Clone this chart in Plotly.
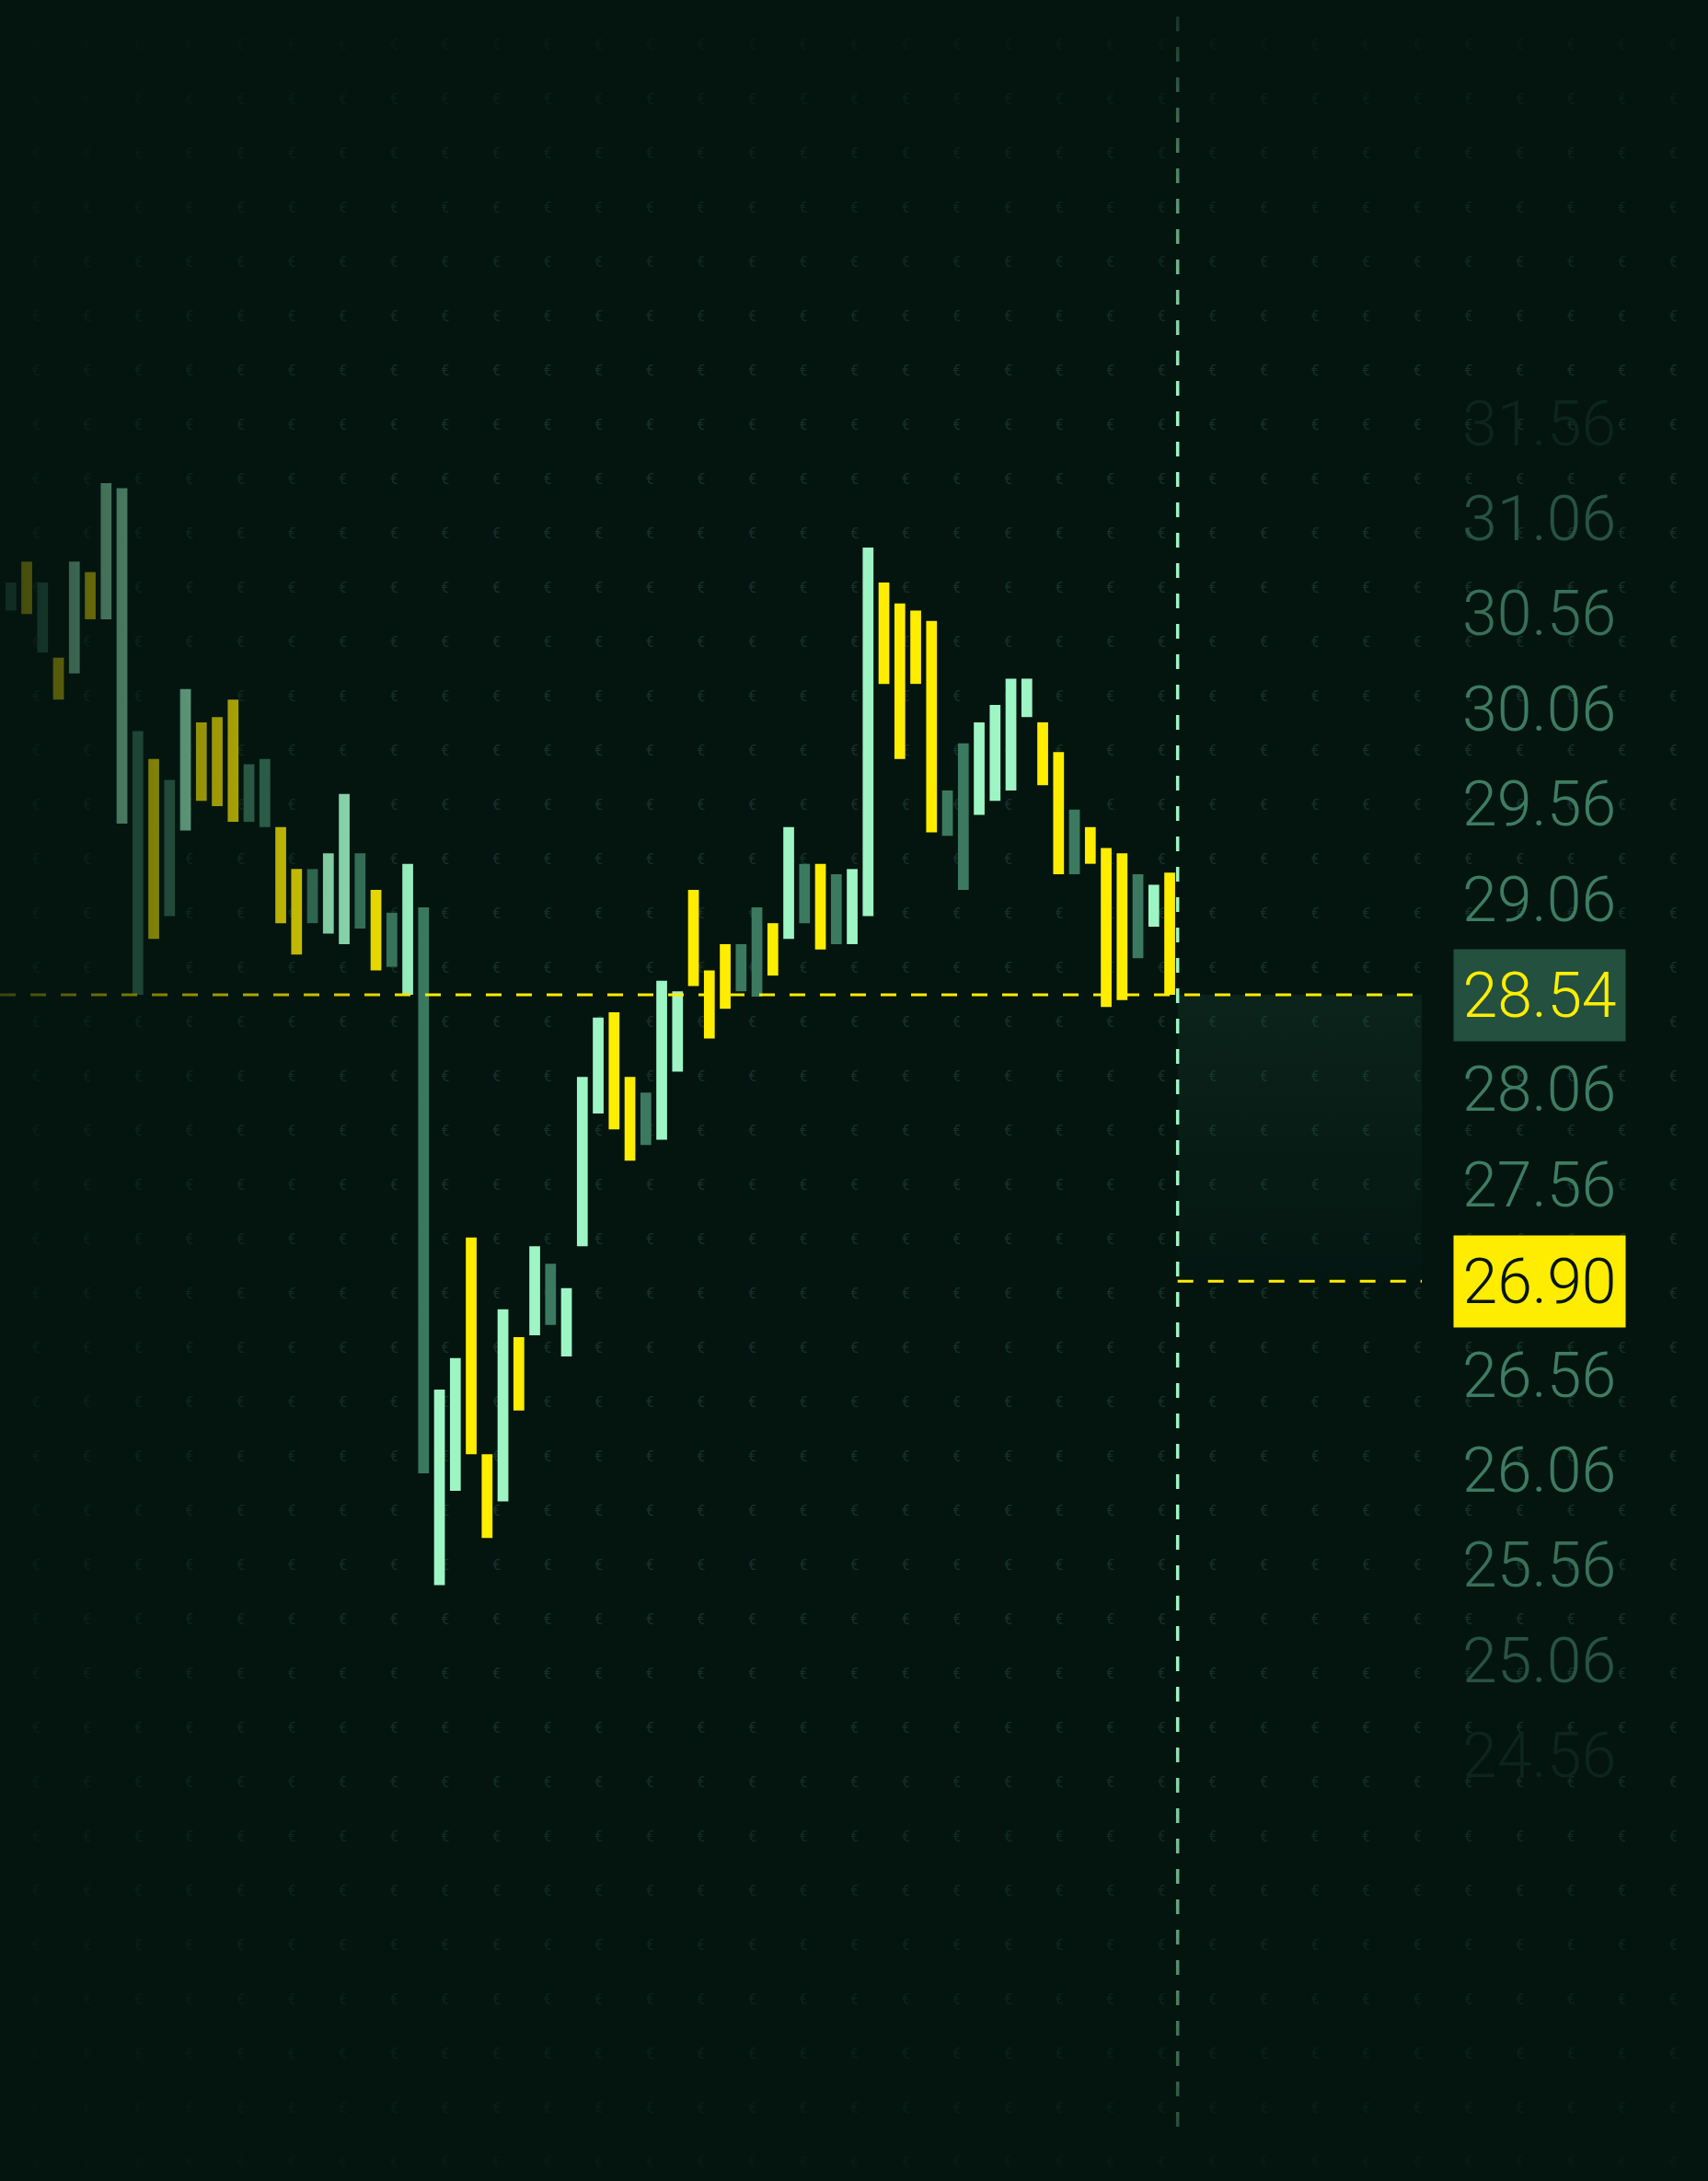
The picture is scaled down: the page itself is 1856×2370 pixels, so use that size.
import numpy as np
import plotly.graph_objects as go

# ---------------- data ----------------
bar_high = [30.90, 31.02, 30.90, 30.47, 31.02, 30.96, 31.47, 31.44, 30.05, 29.89,
            29.77, 30.29, 30.10, 30.13, 30.23, 29.86, 29.89, 29.50, 29.26, 29.26,
            29.35, 29.69, 29.35, 29.14, 29.01, 29.29, 29.04, 26.28, 26.46, 27.15,
            25.91, 26.74, 26.58, 27.10, 27.00, 26.86, 28.07, 28.41, 28.44, 28.07,
            27.98, 28.62, 28.56, 29.14, 28.68, 28.83, 28.83, 29.04, 28.95, 29.50,
            29.29, 29.29, 29.23, 29.26, 31.10, 30.90, 30.78, 30.74, 30.68, 29.71,
            29.98, 30.10, 30.20, 30.35, 30.35, 30.10, 29.93, 29.60, 29.50, 29.38,
            29.35, 29.23, 29.17, 29.24]
bar_low = [30.74, 30.72, 30.50, 30.23, 30.38, 30.69, 30.69, 29.52, 28.54, 28.86,
           28.99, 29.48, 29.65, 29.62, 29.53, 29.53, 29.50, 28.95, 28.77, 28.95,
           28.89, 28.83, 28.92, 28.68, 28.70, 28.54, 25.80, 25.16, 25.70, 25.91,
           25.43, 25.64, 26.16, 26.59, 26.65, 26.47, 27.10, 27.86, 27.77, 27.59,
           27.68, 27.71, 28.10, 28.59, 28.29, 28.46, 28.56, 28.53, 28.65, 28.86,
           28.95, 28.80, 28.83, 28.83, 28.99, 30.32, 29.89, 30.32, 29.47, 29.45,
           29.14, 29.57, 29.65, 29.71, 30.13, 29.74, 29.23, 29.23, 29.29, 28.47,
           28.51, 28.75, 28.93, 28.54]
bar_dir = ["n", "d", "n", "d", "u", "d", "u", "u", "n", "d",
           "n", "u", "d", "d", "d", "n", "n", "d", "d", "n",
           "u", "u", "n", "d", "n", "u", "n", "u", "u", "d",
           "d", "u", "d", "u", "n", "u", "u", "u", "d", "d",
           "n", "u", "u", "d", "d", "d", "n", "n", "d", "u",
           "n", "d", "n", "u", "u", "d", "d", "d", "d", "n",
           "n", "u", "u", "u", "u", "d", "d", "n", "d", "d",
           "d", "n", "u", "d"]
last_price = 28.54
target_price = 26.90
ladder_labels = ["31.56", "31.06", "30.56", "30.06", "29.56", "29.06", "28.54",
                 "28.06", "27.56", "26.90", "26.56", "26.06", "25.56", "25.06", "24.56"]

# ---------------- style / layout constants ----------------
W, H = 1856, 2370
BG = (4, 21, 16)
BG_HEX = "#041510"
YELLOW = "#FFED00"
MINT = "#9DF5C4"
DARK = "#3B7A60"
LABEL_RGB = (62, 124, 99)
BADGE_BG = "#23503F"
FONT = "Roboto"
LABEL_SIZE = 68

X0_PX, BAR_PX = 11.8, 17.25                       # first bar centre, px per bar slot
PRICE_REF_PX, PRICE_UNIT_PX = 1081, 189.8          # last price row, px per 1.00
SLOT_PX = 103.4                                    # ladder row spacing
LABEL_X_PX, BADGE_X_PX, BADGE_W, BADGE_H = 1587, 1579, 186, 99
LINE_END_PX = 1545

x_min = -X0_PX / BAR_PX
x_max = x_min + W / BAR_PX
p_max = last_price + PRICE_REF_PX / PRICE_UNIT_PX
p_min = p_max - H / PRICE_UNIT_PX
i_last = ladder_labels.index(f"{last_price:.2f}")
s_top = i_last - PRICE_REF_PX / SLOT_PX
s_bot = s_top + H / SLOT_PX


def xd(px):
    return x_min + px / BAR_PX


def yd(py):
    return p_max - py / PRICE_UNIT_PX


def rgba(c, a):
    return f"rgba({c[0]},{c[1]},{c[2]},{a:.3f})"


n = len(bar_high)
idx = np.arange(n)
hi = np.array(bar_high)
lo = np.array(bar_low)
cmap = {"u": MINT, "d": YELLOW, "n": DARK}
colors = [cmap[d] for d in bar_dir]

now_x = n - 1 + 0.5
line_end = xd(LINE_END_PX)

fig = go.Figure()

# euro background pattern (base subplot, underneath everything)
gx = np.arange(39, W, 55.6)
gy = np.arange(50, H, 59.0)
GX, GY = np.meshgrid(gx, gy)
fig.add_trace(go.Scatter(
    x=xd(GX.ravel()), y=yd(GY.ravel()), mode="text", text=["€"] * GX.size,
    textfont=dict(family=FONT, size=16, color="rgb(22,49,40)"),
    hoverinfo="skip", showlegend=False, xaxis="x", yaxis="y"))

OV = dict(xaxis="x2", yaxis="y2", hoverinfo="skip", showlegend=False)

# target zone shading
fig.add_trace(go.Scatter(
    x=[now_x, line_end, line_end, now_x, now_x],
    y=[target_price, target_price, last_price, last_price, target_price],
    mode="none", fill="toself",
    fillgradient=dict(type="vertical",
                      colorscale=[[0, rgba((30, 75, 58), 0.02)],
                                  [1, rgba((30, 75, 58), 0.26)]]),
    **OV))

# bars
fig.add_trace(go.Bar(
    x=idx, base=lo, y=hi - lo, width=0.68,
    marker=dict(color=colors, line=dict(width=0)), **OV))

# last price line
fig.add_trace(go.Scatter(
    x=[x_min, line_end], y=[last_price, last_price], mode="lines",
    line=dict(color=YELLOW, width=3, dash="17px,16px"), **OV))
# target line
fig.add_trace(go.Scatter(
    x=[now_x, line_end], y=[target_price, target_price], mode="lines",
    line=dict(color=YELLOW, width=3, dash="17px,16px"), **OV))
# now line
fig.add_trace(go.Scatter(
    x=[now_x, now_x], y=[yd(18), yd(2315)], mode="lines",
    line=dict(color=MINT, width=3.5, dash="16px,17px"), **OV))


# fade overlays
def overlay(x0, x1, y0, y1, kind, a0, a1):
    fig.add_trace(go.Scatter(
        x=[x0, x1, x1, x0, x0], y=[y0, y0, y1, y1, y0],
        mode="none", fill="toself",
        fillgradient=dict(type=kind, colorscale=[[0, rgba(BG, a0)], [1, rgba(BG, a1)]]),
        **OV))


overlay(x_min, xd(470), p_min, p_max, "horizontal", 0.78, 0.0)
overlay(x_min, x_max, yd(430), p_max, "vertical", 0.0, 0.9)
overlay(x_min, x_max, p_min, yd(1850), "vertical", 0.85, 0.0)

# anchor trace for the ladder axis
fig.add_trace(go.Scatter(x=[None], y=[None], xaxis="x2", yaxis="y3",
                         hoverinfo="skip", showlegend=False))

# price ladder labels
badges = {f"{last_price:.2f}", f"{target_price:.2f}"}
center = ladder_labels.index(f"{last_price:.2f}") + 1
annotations = []
for i, lab in enumerate(ladder_labels):
    if lab in badges:
        continue
    d = abs(i - center)
    a = float(np.clip(1 - max(d - 3.8, 0) ** 2 / 3.5 ** 2, 0.08, 1))
    col = tuple(int(BG[k] + a * (LABEL_RGB[k] - BG[k])) for k in range(3))
    annotations.append(dict(
        x=LABEL_X_PX / W, xref="paper", y=i, yref="y3", xanchor="left", yanchor="middle",
        text=lab, showarrow=False,
        font=dict(family=FONT, size=LABEL_SIZE, weight=300, color=f"rgb{col}")))

for val, bg, fg in [(last_price, BADGE_BG, YELLOW), (target_price, YELLOW, BG_HEX)]:
    annotations.append(dict(
        x=BADGE_X_PX / W, xref="paper", y=val, yref="y2", xanchor="left", yanchor="middle",
        text=f"{val:.2f}", showarrow=False, bgcolor=bg, borderpad=0,
        width=BADGE_W, height=BADGE_H, align="center",
        font=dict(family=FONT, size=LABEL_SIZE, weight=300, color=fg)))

fig.update_layout(
    width=W, height=H, margin=dict(l=0, r=0, t=0, b=0),
    paper_bgcolor=BG_HEX, plot_bgcolor=BG_HEX, showlegend=False,
    xaxis=dict(visible=False, range=[x_min, x_max], fixedrange=True),
    yaxis=dict(visible=False, range=[p_min, p_max], fixedrange=True),
    xaxis2=dict(visible=False, range=[x_min, x_max], fixedrange=True,
                overlaying="x", anchor="y2"),
    yaxis2=dict(visible=False, range=[p_min, p_max], fixedrange=True,
                overlaying="y", anchor="x2"),
    yaxis3=dict(visible=False, range=[s_bot, s_top], fixedrange=True,
                overlaying="y", anchor="x2"),
    annotations=annotations, hovermode=False)

fig.write_html("out.html", config={"displayModeBar": False},
               post_script="document.body.style.margin='0';document.body.style.background='#041510';")
